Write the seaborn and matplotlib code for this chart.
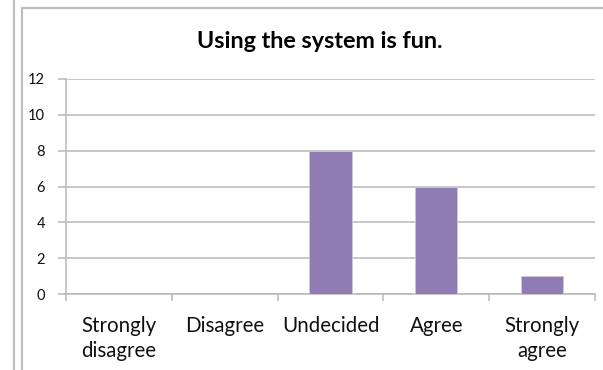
import matplotlib
matplotlib.use("Agg")
import matplotlib.pyplot as plt
from matplotlib.lines import Line2D
import seaborn as sns
import pandas as pd
import numpy as np

# Survey responses for the statement
categories = ["Strongly\ndisagree", "Disagree", "Undecided", "Agree", "Strongly\nagree"]
counts = [0, 0, 8, 6, 1]
y_ticks = [0, 2, 4, 6, 8, 10, 12]
title = "Using the system is fun."

bar_color = "#8E7CB3"
grid_color = "#B8B8B8"

sns.set_theme(style="white")
plt.rcParams["font.family"] = ["Lato", "DejaVu Sans"]

W, H = 603, 370
fig = plt.figure(figsize=(W / 100, H / 100), dpi=100)
fig.patch.set_facecolor("white")

# Page chrome: a vertical rule on the left and the chart frame
fig.add_artist(Line2D([13.5 / W, 13.5 / W], [0, 1], color="#BDBDBD", lw=1.6,
                      transform=fig.transFigure))
fig.add_artist(Line2D([21.5 / W, 21.5 / W], [0, 1 - 7.5 / H], color="#BDBDBD", lw=1.6,
                      transform=fig.transFigure))
fig.add_artist(Line2D([21.5 / W, 1.0], [1 - 7.5 / H, 1 - 7.5 / H], color="#BDBDBD", lw=1.6,
                      transform=fig.transFigure))

left, right, top, bottom = 66, 595, 79, 294
ax = fig.add_axes([left / W, 1 - bottom / H, (right - left) / W, (bottom - top) / H])

df = pd.DataFrame({"response": categories, "count": counts})
sns.barplot(data=df, x="response", y="count", color=bar_color, width=0.4,
            saturation=1, ax=ax, zorder=3, edgecolor="#CFC6E0", linewidth=0.6)

ax.set_ylim(0, 12)
ax.set_xlim(-0.5, len(categories) - 0.5)
ax.set_yticks(y_ticks)
ax.set_yticklabels([str(v) for v in y_ticks], fontsize=10.5, color="#111111")
ax.yaxis.grid(True, color=grid_color, lw=1.1, zorder=0)
ax.set_axisbelow(True)

# Category labels sit at the centres; tick marks at the category boundaries
ax.set_xticks(range(len(categories)))
ax.set_xticklabels(categories, fontsize=14.8, color="#111111", linespacing=1.3)
ax.set_xticks(np.arange(-0.5, len(categories), 1.0), minor=True)
ax.tick_params(axis="x", which="major", length=0, pad=16)
ax.tick_params(axis="x", which="minor", length=5, width=1.1, color=grid_color,
               direction="out", bottom=True)
ax.tick_params(axis="y", which="major", length=6, width=1.1, color=grid_color,
               direction="out", left=True, pad=9)

ax.set_xlabel("")
ax.set_ylabel("")
for side in ["top", "right"]:
    ax.spines[side].set_visible(False)
for side in ["left", "bottom"]:
    ax.spines[side].set_color(grid_color)
    ax.spines[side].set_linewidth(1.1)

fig.text(320 / W, 1 - 42 / H, title, ha="center", va="center",
         fontsize=16.8, fontweight="bold", color="#000000")

fig.savefig("out.png", dpi=100, facecolor="white")
